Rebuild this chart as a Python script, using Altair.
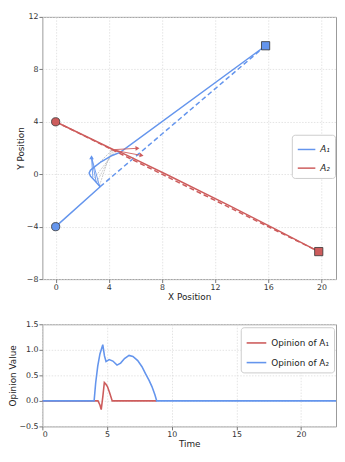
import altair as alt
import pandas as pd

BLUE = "#6495ED"
RED = "#CD5C5C"
EDGE = "#333333"

# ---------------- top panel data ----------------
a1_path_x = [0.0, 3.35, 2.95, 2.62, 2.52, 2.62, 2.85, 3.42, 4.25, 4.85, 15.8]
a1_path_y = [-4.0, -0.95, -0.5, -0.15, 0.1, 0.3, 0.5, 0.95, 1.43, 1.67, 9.8]
a1_plan_x = [3.35, 15.8]
a1_plan_y = [-0.95, 9.8]

a2_path_x = [0.0, 4.4, 4.8, 8.5, 13.0, 16.5, 19.8]
a2_path_y = [4.0, 1.85, 1.72, -0.1, -2.36, -4.17, -5.9]
a2_plan_x = [0.0, 19.8]
a2_plan_y = [4.0, -5.9]

start_x = [0.0, 0.0]
start_y = [-4.0, 4.0]
goal_x = [15.8, 19.8]
goal_y = [9.8, -5.9]
agents = ["A₁", "A₂"]

link_x1 = [3.3, 3.1, 2.9, 3.0]
link_y1 = [-0.85, -0.6, -0.3, 0.6]
link_x2 = [4.2, 4.35, 4.5, 4.25]
link_y2 = [1.85, 1.85, 1.8, 1.85]

b_arrow_x1 = [3.3, 3.05, 2.8]
b_arrow_y1 = [-0.9, -0.6, -0.25]
b_arrow_x2 = [2.7, 2.7, 2.7]
b_arrow_y2 = [1.3, 1.3, 1.3]

r_arrow_x1 = [4.13, 4.6]
r_arrow_y1 = [1.86, 1.79]
r_arrow_x2 = [6.16, 6.47]
r_arrow_y2 = [1.98, 1.43]

# ---------------- bottom panel data ----------------
t_a1 = [0, 4.3, 4.45, 4.55, 4.68, 4.79, 4.9, 5.03, 5.2, 5.4, 8.84]
v_a1 = [0, 0, -0.08, -0.17, 0.1, 0.36, 0.33, 0.28, 0.16, 0, 0]
t_a2 = [0, 4.0, 4.12, 4.28, 4.45, 4.67, 4.8, 4.92, 5.16, 5.45, 5.77, 6.05,
        6.35, 6.7, 7.0, 7.37, 7.7, 7.98, 8.25, 8.47, 8.7, 8.84, 22.7]
v_a2 = [0, 0, 0.35, 0.68, 0.92, 1.1, 0.88, 0.77, 0.81, 0.78, 0.70, 0.74,
        0.83, 0.89, 0.87, 0.79, 0.67, 0.53, 0.4, 0.28, 0.12, 0, 0]
op_names = ["Opinion of A₁", "Opinion of A₂"]

# ---------------- frames ----------------
paths = pd.concat([
    pd.DataFrame({"x": a1_path_x, "y": a1_path_y, "agent": agents[0], "i": range(len(a1_path_x))}),
    pd.DataFrame({"x": a2_path_x, "y": a2_path_y, "agent": agents[1], "i": range(len(a2_path_x))}),
])
plans = pd.concat([
    pd.DataFrame({"x": a1_plan_x, "y": a1_plan_y, "agent": agents[0], "i": range(2)}),
    pd.DataFrame({"x": a2_plan_x, "y": a2_plan_y, "agent": agents[1], "i": range(2)}),
])
starts = pd.DataFrame({"x": start_x, "y": start_y, "agent": agents})
goals = pd.DataFrame({"x": goal_x, "y": goal_y, "agent": agents})
links = pd.DataFrame({"x1": link_x1, "y1": link_y1, "x2": link_x2, "y2": link_y2})
barrows = pd.DataFrame({"x1": b_arrow_x1, "y1": b_arrow_y1, "x2": b_arrow_x2, "y2": b_arrow_y2})
rarrows = pd.DataFrame({"x1": r_arrow_x1, "y1": r_arrow_y1, "x2": r_arrow_x2, "y2": r_arrow_y2})

opinions = pd.concat([
    pd.DataFrame({"t": t_a1, "v": v_a1, "s": op_names[0]}),
    pd.DataFrame({"t": t_a2, "v": v_a2, "s": op_names[1]}),
])

W = 299
H1 = 267
H2 = 104

xs_top = alt.Scale(domain=[-1.0, 21.1], nice=False, zero=False)
ys_top = alt.Scale(domain=[-8, 12], nice=False, zero=False)


def X(f):
    return alt.X(f"{f}:Q", scale=xs_top,
                 axis=alt.Axis(values=[0, 4, 8, 12, 16, 20], title="X Position"))


def Y(f):
    return alt.Y(f"{f}:Q", scale=ys_top,
                 axis=alt.Axis(values=[-8, -4, 0, 4, 8, 12], title="Y Position"))


agent_scale = alt.Scale(domain=agents, range=[BLUE, RED])

solid = alt.Chart(paths).mark_line(strokeWidth=1.5).encode(
    x=X("x"), y=Y("y"), order="i:Q",
    color=alt.Color("agent:N", scale=agent_scale,
                    legend=alt.Legend(title=None, orient="none", legendX=W - 45, legendY=120,
                                      symbolType="stroke", symbolSize=320, symbolStrokeWidth=1.5,
                                      labelFontStyle="italic", labelFontSize=9,
                                      fillColor="white", strokeColor="#cccccc",
                                      cornerRadius=3, padding=5, rowPadding=4)),
)

dash_b = alt.Chart(plans).transform_filter(alt.datum.agent == agents[0]).mark_line(
    strokeWidth=1.5, strokeDash=[5, 3], color=BLUE).encode(x=X("x"), y=Y("y"), order="i:Q")
dash_r = alt.Chart(plans).transform_filter(alt.datum.agent == agents[1]).mark_line(
    strokeWidth=1.5, strokeDash=[5, 3], color=RED).encode(x=X("x"), y=Y("y"), order="i:Q")

link_l = alt.Chart(links).mark_rule(color="#aaaaaa", strokeWidth=0.6, strokeDash=[2, 1]).encode(
    x=X("x1"), y=Y("y1"), x2="x2:Q", y2="y2:Q")
barrow_l = alt.Chart(barrows).mark_rule(color=BLUE, strokeWidth=0.9).encode(
    x=X("x1"), y=Y("y1"), x2="x2:Q", y2="y2:Q")
rarrow_l = alt.Chart(rarrows).mark_rule(color=RED, strokeWidth=0.9).encode(
    x=X("x1"), y=Y("y1"), x2="x2:Q", y2="y2:Q")

bhead = alt.Chart(barrows.head(1)).mark_point(
    shape="triangle-up", filled=True, color=BLUE, size=22, opacity=1).encode(x=X("x2"), y=Y("y2"))
rhead1 = alt.Chart(rarrows.head(1)).mark_point(
    shape="triangle-right", filled=True, color=RED, size=22, opacity=1, angle=357).encode(x=X("x2"), y=Y("y2"))
rhead2 = alt.Chart(rarrows.tail(1)).mark_point(
    shape="triangle-right", filled=True, color=RED, size=22, opacity=1, angle=11).encode(x=X("x2"), y=Y("y2"))

start_pts = alt.Chart(starts).mark_point(
    shape="circle", filled=True, size=70, stroke=EDGE, strokeWidth=0.8, opacity=1).encode(
    x=X("x"), y=Y("y"), fill=alt.Fill("agent:N", scale=agent_scale, legend=None))
goal_pts = alt.Chart(goals).mark_point(
    shape="square", filled=True, size=70, stroke=EDGE, strokeWidth=0.8, opacity=1).encode(
    x=X("x"), y=Y("y"), fill=alt.Fill("agent:N", scale=agent_scale, legend=None))

top = alt.layer(link_l, dash_b, dash_r, solid, barrow_l, bhead, rarrow_l, rhead1, rhead2,
                start_pts, goal_pts).properties(width=W, height=H1)

bottom = alt.Chart(opinions).mark_line(strokeWidth=1.6, clip=True).encode(
    x=alt.X("t:Q", scale=alt.Scale(domain=[0, 22.7], nice=False),
            axis=alt.Axis(values=[0, 5, 10, 15, 20], title="Time", format="d")),
    y=alt.Y("v:Q", scale=alt.Scale(domain=[-0.5, 1.5], nice=False),
            axis=alt.Axis(values=[-0.5, 0, 0.5, 1.0, 1.5], format=".1f", title="Opinion Value")),
    color=alt.Color("s:N", scale=alt.Scale(domain=op_names, range=[RED, BLUE]),
                    legend=alt.Legend(title=None, orient="none", legendX=W - 97, legendY=3,
                                      symbolType="stroke", symbolSize=400, symbolStrokeWidth=1.6,
                                      labelFontSize=9, fillColor="white", strokeColor="#cccccc",
                                      cornerRadius=3, padding=5, rowPadding=4)),
).properties(width=W, height=H2)

chart = alt.vconcat(top, bottom, spacing=46, bounds="flush").resolve_scale(
    color="independent", fill="independent").properties(
    padding={"left": 0, "top": 0, "right": 0, "bottom": 0}
).configure_view(stroke="#999999", strokeWidth=1).configure_axis(
    labelFont="DejaVu Sans", titleFont="DejaVu Sans", labelFontSize=8, titleFontSize=9,
    titleFontWeight="normal", labelColor="#333333", titleColor="#222222",
    tickColor="#777777", tickSize=3.5, domain=False,
    grid=True, gridColor="#dddddd", gridDash=[1.5, 1.5], gridWidth=0.8,
    titlePadding=1, labelPadding=1,
).configure_legend(labelFont="DejaVu Sans", labelColor="#222222")

chart.save("out.html", embed_options={"renderer": "svg", "actions": False})
